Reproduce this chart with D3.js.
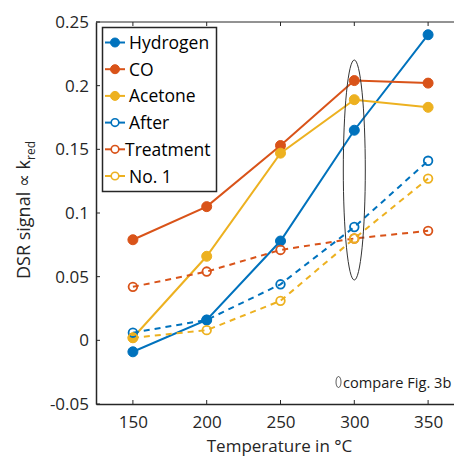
<!DOCTYPE html>
<html><head><meta charset="utf-8">
<script src="https://cdn.jsdelivr.net/npm/d3@7"></script>
<style>body{margin:0;background:#fff;overflow:hidden}svg{display:block}</style>
</head><body>
<script>
const temps = [150, 200, 250, 300, 350];
const seriesNames = ["Hydrogen", "CO", "Acetone", "After", "Treatment", "No. 1"];
const hydrogen = [-0.009, 0.016, 0.078, 0.165, 0.240];
const co = [0.079, 0.105, 0.153, 0.204, 0.202];
const acetone = [0.002, 0.066, 0.147, 0.189, 0.183];
const after = [0.006, 0.016, 0.044, 0.089, 0.141];
const treatment = [0.042, 0.054, 0.071, 0.080, 0.086];
const no1 = [0.002, 0.008, 0.031, 0.080, 0.127];
const yTicks = [-0.05, 0, 0.05, 0.1, 0.15, 0.2, 0.25];
const yTickLabels = ["-0.05", "0", "0.05", "0.1", "0.15", "0.2", "0.25"];
const xTicks = [150, 200, 250, 300, 350];

const colors = ["#0072BD", "#D95319", "#EDB120", "#0072BD", "#D95319", "#EDB120"];
const filled = [true, true, true, false, false, false];
const allSeries = [hydrogen, co, acetone, after, treatment, no1];

const W = 454, H = 460;
const font = "'Open Sans', 'Noto Sans', sans-serif";
const svg = d3.select("body").append("svg").attr("width", W).attr("height", H);

const x = d3.scaleLinear().domain([125, 375]).range([96, 465]);
const y = d3.scaleLinear().domain([-0.05, 0.25]).range([404, 22]);

const g = svg.append("g");
g.append("line").attr("x1", x(125)).attr("x2", W).attr("y1", y(0.25)).attr("y2", y(0.25)).attr("stroke", "#262626").attr("stroke-width", 1);

const xAxis = g.append("g").attr("transform", `translate(0,${y(-0.05)})`)
  .call(d3.axisBottom(x).tickValues(xTicks).tickSize(0).tickPadding(12).tickFormat(d3.format("d")));
xAxis.select(".domain").attr("stroke", "#262626").attr("stroke-width", 1.5);
xAxis.selectAll("text").attr("font-family", font).attr("font-size", 17).attr("fill", "#262626");
xTicks.forEach(t => {
  g.append("line").attr("x1", x(t)).attr("x2", x(t)).attr("y1", y(-0.05)).attr("y2", y(-0.05) - 4).attr("stroke", "#262626");
  g.append("line").attr("x1", x(t)).attr("x2", x(t)).attr("y1", y(0.25)).attr("y2", y(0.25) + 4).attr("stroke", "#262626");
});

const yAxis = g.append("g").attr("transform", `translate(${x(125)},0)`)
  .call(d3.axisLeft(y).tickValues(yTicks).tickSize(0).tickPadding(7).tickFormat((d, i) => yTickLabels[i]));
yAxis.select(".domain").attr("stroke", "#262626").attr("stroke-width", 1.5);
yAxis.selectAll("text").attr("font-family", font).attr("font-size", 17).attr("fill", "#262626");
yTicks.forEach(t => {
  g.append("line").attr("x1", x(125)).attr("x2", x(125) + 4).attr("y1", y(t)).attr("y2", y(t)).attr("stroke", "#262626");
});

svg.append("text").attr("x", x(250) - 1).attr("y", 452).attr("text-anchor", "middle")
  .attr("font-family", font).attr("font-size", 17).attr("fill", "#262626").text("Temperature in °C");
const yt = svg.append("text").attr("transform", `translate(30,210) rotate(-90)`).attr("text-anchor", "middle")
  .attr("font-family", font).attr("font-size", 18).attr("fill", "#262626");
yt.append("tspan").text("DSR signal ∝ k");
yt.append("tspan").attr("font-size", 12).attr("dy", 5).text("red");

const line = d3.line().x((d, i) => x(temps[i])).y(d => y(d));
allSeries.forEach((vals, k) => {
  svg.append("path").attr("d", line(vals)).attr("fill", "none").attr("stroke", colors[k])
    .attr("stroke-width", 2).attr("stroke-dasharray", filled[k] ? null : "6,5");
});
allSeries.forEach((vals, k) => {
  svg.selectAll(null).data(vals).enter().append("circle")
    .attr("cx", (d, i) => x(temps[i])).attr("cy", d => y(d))
    .attr("r", filled[k] ? 5 : 4.3)
    .attr("fill", filled[k] ? colors[k] : "none")
    .attr("stroke", colors[k]).attr("stroke-width", filled[k] ? 1 : 1.8);
});

svg.append("ellipse").attr("cx", x(300)).attr("cy", 170).attr("rx", 11).attr("ry", 110)
  .attr("fill", "none").attr("stroke", "#333").attr("stroke-width", 1);
svg.append("ellipse").attr("cx", 338.5).attr("cy", 382).attr("rx", 2.5).attr("ry", 5.5)
  .attr("fill", "none").attr("stroke", "#333").attr("stroke-width", 0.8);
svg.append("text").attr("x", 343).attr("y", 387.5).attr("font-family", font).attr("font-size", 14.6)
  .attr("fill", "#1a1a1a").text("compare Fig. 3b");

const lg = svg.append("g");
lg.append("rect").attr("x", 102.5).attr("y", 27.5).attr("width", 114).attr("height", 164)
  .attr("fill", "#fff").attr("stroke", "#262626").attr("stroke-width", 1.5);
seriesNames.forEach((name, k) => {
  const ly = 42.5 + k * 26.7;
  lg.append("line").attr("x1", 105).attr("x2", 125).attr("y1", ly).attr("y2", ly)
    .attr("stroke", colors[k]).attr("stroke-width", 2);
  lg.append("circle").attr("cx", 115).attr("cy", ly).attr("r", filled[k] ? 4.5 : 3.8)
    .attr("fill", filled[k] ? colors[k] : "#fff").attr("stroke", colors[k]).attr("stroke-width", filled[k] ? 1 : 1.6);
  lg.append("text").attr("x", k === 4 ? 125 : 129).attr("y", ly + 6.5).attr("font-family", font)
    .attr("font-size", 17.5).attr("fill", "#000").text(name);
});
</script>
</body></html>
